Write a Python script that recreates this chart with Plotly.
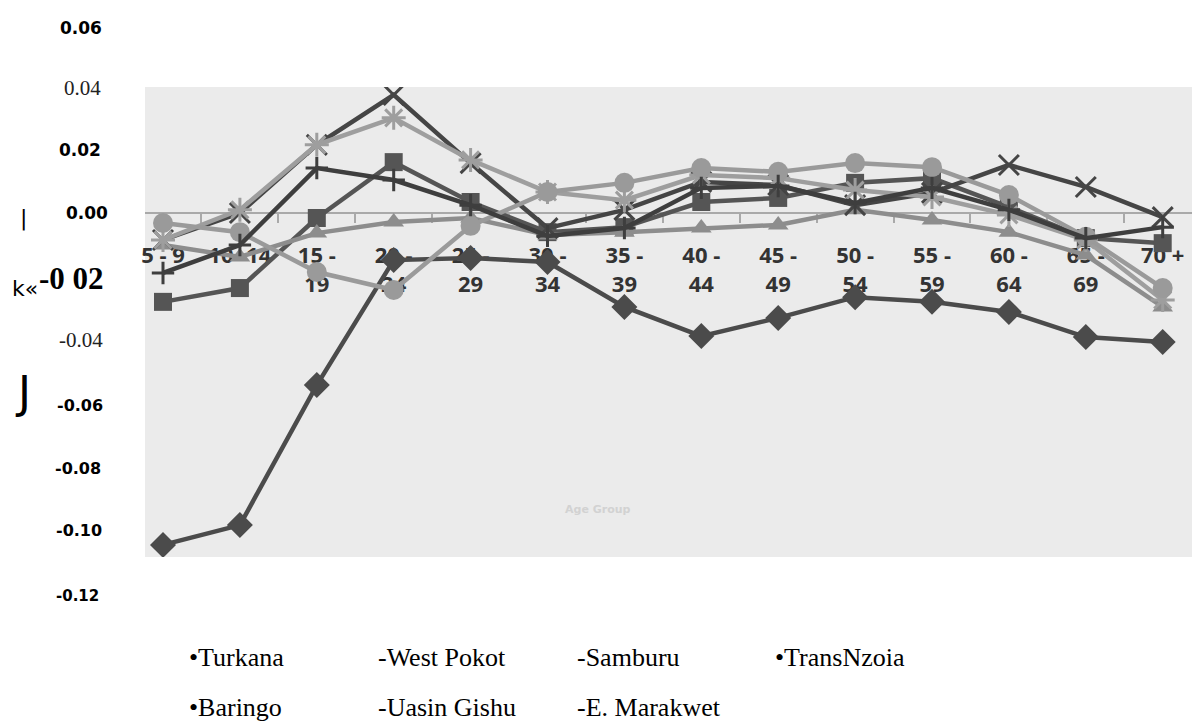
import plotly.graph_objects as go

# ---------------- data ----------------
age_groups = ["5-9", "10-14", "15-19", "20-24", "25-29", "30-34", "35-39",
              "40-44", "45-49", "50-54", "55-59", "60-64", "65-69", "70+"]
age_tick_text = ["5 - 9", "10 -14", "15 -<br>19", "20 -<br>24", "25 -<br>29", "30 -<br>34",
                 "35 -<br>39", "40 -<br>44", "45 -<br>49", "50 -<br>54", "55 -<br>59",
                 "60 -<br>64", "65 -<br>69", "70 +"]

turkana = [-0.1057, -0.0994, -0.0548, -0.0150, -0.0143, -0.0156, -0.0299,
           -0.0392, -0.0334, -0.0268, -0.0283, -0.0315, -0.0395, -0.0411]
west_pokot = [-0.0283, -0.0239, -0.0016, 0.0162, 0.0035, -0.0061, -0.0045,
              0.0035, 0.0048, 0.0096, 0.0111, 0.0019, -0.0080, -0.0096]
samburu = [-0.0102, -0.0140, -0.0064, -0.0029, -0.0016, -0.0070, -0.0061,
           -0.0048, -0.0038, 0.0010, -0.0022, -0.0061, -0.0134, -0.0299]
transnzoia = [-0.0086, 0.0000, 0.0217, 0.0376, 0.0159, -0.0048, 0.0010,
              0.0099, 0.0089, 0.0025, 0.0064, 0.0153, 0.0083, -0.0013]
baringo = [-0.0086, 0.0010, 0.0217, 0.0303, 0.0169, 0.0067, 0.0041,
           0.0121, 0.0111, 0.0073, 0.0051, -0.0006, -0.0086, -0.0277]
uasin_gishu = [-0.0032, -0.0061, -0.0188, -0.0245, -0.0041, 0.0067, 0.0096,
               0.0143, 0.0131, 0.0159, 0.0146, 0.0057, -0.0076, -0.0239]
e_marakwet = [-0.0191, -0.0102, 0.0143, 0.0105, 0.0025, -0.0073, -0.0048,
              0.0080, 0.0086, 0.0032, 0.0080, 0.0010, -0.0080, -0.0045]

y_tick_labels = ["0.06", "0.04", "0.02", "0.00", "-0 02", "-0.04",
                 "-0.06", "-0.08", "-0.10", "-0.12"]
legend_labels = ["•Turkana", "-West Pokot", "-Samburu", "•TransNzoia",
                 "•Baringo", "-Uasin Gishu", "-E. Marakwet"]

# ---------------- styling ----------------
W, H = 1192, 727
L, R, T, B = 145, 0, 87, 170
PW, PH = W - L - R, H - T - B


def px2paper(px):
    return (px - L) / PW


def py2paper(py):
    return (H - B - py) / PH


series = [
    (turkana, "Turkana", "#4b4b4b", "diamond", 20, 0),
    (west_pokot, "West Pokot", "#555555", "square", 18, 0),
    (samburu, "Samburu", "#8d8d8d", "triangle-up", 18, 0),
    (transnzoia, "TransNzoia", "#454545", "x-thin", 20, 3),
    (baringo, "Baringo", "#9e9e9e", "asterisk", 20, 3),
    (uasin_gishu, "Uasin Gishu", "#9a9a9a", "circle", 20, 0),
    (e_marakwet, "E. Marakwet", "#3e3e3e", "cross-thin", 16, 3),
]

fig = go.Figure()
xs = list(range(len(age_groups)))
for vals, name, col, sym, size, lw in series:
    fig.add_trace(go.Scatter(
        x=xs, y=vals, name=name, mode="lines+markers",
        line=dict(color=col, width=4.5),
        marker=dict(symbol=sym, size=size, color=col,
                    line=dict(color=col, width=lw)),
        hovertext=age_groups,
    ))

# y-axis: 0 at pixel 213, 3140 px per unit
y_top = (213 - T) / 3140
y_bot = -(H - B - 213) / 3140
zero_pos = (0 - y_bot) / (y_top - y_bot)

fig.update_layout(
    width=W, height=H,
    margin=dict(l=L, r=R, t=T, b=B),
    paper_bgcolor="white",
    plot_bgcolor="#ebebeb",
    showlegend=False,
    xaxis=dict(
        range=[-18 / 76.9, (W - 163) / 76.9],
        anchor="free", position=zero_pos,
        showgrid=False, zeroline=False,
        showline=True, linecolor="#a9a9a9", linewidth=2,
        tickmode="array", tickvals=xs, ticktext=age_tick_text,
        ticks="", ticklabelstandoff=23,
        tickfont=dict(family="Open Sans", size=22, color="#333333", weight="bold"),
        minor=dict(ticks="outside", tick0=0.5, dtick=1, ticklen=9,
                   tickcolor="#a9a9a9", tickwidth=2, showgrid=False),
        layer="below traces",
    ),
    yaxis=dict(range=[y_bot, y_top], showgrid=False, zeroline=False,
               showticklabels=False, showline=False, ticks=""),
)

# y tick labels (scanned, irregular fonts)
ytick_pos = [28, 88, 150, 213, 278, 340, 405, 468, 530, 596]
ytick_right = [104, 103, 103, 110, 106, 105, 105, 103, 104, 101]
ytick_font = [
    dict(family="DejaVu Sans", size=17, color="black", weight="bold"),
    dict(family="Liberation Serif", size=21, color="#222222"),
    dict(family="DejaVu Sans", size=17, color="black", weight="bold"),
    dict(family="DejaVu Sans", size=17, color="black", weight="bold"),
    dict(family="Liberation Serif", size=31, color="black", weight="bold"),
    dict(family="Liberation Serif", size=21, color="#222222"),
    dict(family="DejaVu Sans", size=16, color="black", weight="bold"),
    dict(family="DejaVu Sans", size=16, color="black", weight="bold"),
    dict(family="DejaVu Sans", size=16, color="black", weight="bold"),
    dict(family="DejaVu Sans", size=15, color="black", weight="bold"),
]
for lab, py, pr, f in zip(y_tick_labels, ytick_pos, ytick_right, ytick_font):
    fig.add_annotation(x=px2paper(pr), y=py2paper(py), xref="paper", yref="paper",
                       text=lab, showarrow=False, xanchor="right", yanchor="middle",
                       font=f)

# stray scan marks on the left
for txt, px, py, sz in [("|", 23, 218, 22), ("k«", 25, 288, 22), ("J", 23, 392, 44)]:
    fig.add_annotation(x=px2paper(px), y=py2paper(py), xref="paper", yref="paper",
                       text=txt, showarrow=False, xanchor="center", yanchor="middle",
                       font=dict(family="DejaVu Sans", size=sz, color="black"))

# faint axis title inside the photo
fig.add_annotation(x=px2paper(598), y=py2paper(518), xref="paper", yref="paper",
                   text="Age Group", showarrow=False,
                   font=dict(family="DejaVu Sans", size=11, color="#d2d2d2", weight="bold"))

# legend as plain text
leg_pos = [(187, 657), (376, 657), (575, 657), (773, 657),
           (187, 707), (376, 707), (575, 707)]
for lab, (px, py) in zip(legend_labels, leg_pos):
    fig.add_annotation(x=px2paper(px), y=py2paper(py), xref="paper", yref="paper",
                       text=lab, showarrow=False, xanchor="left", yanchor="middle",
                       font=dict(family="Liberation Serif", size=26, color="black"))

fig.write_html("out.html",
               config={"displayModeBar": False},
               post_script="document.body.style.margin='0';document.body.style.overflow='hidden';")
